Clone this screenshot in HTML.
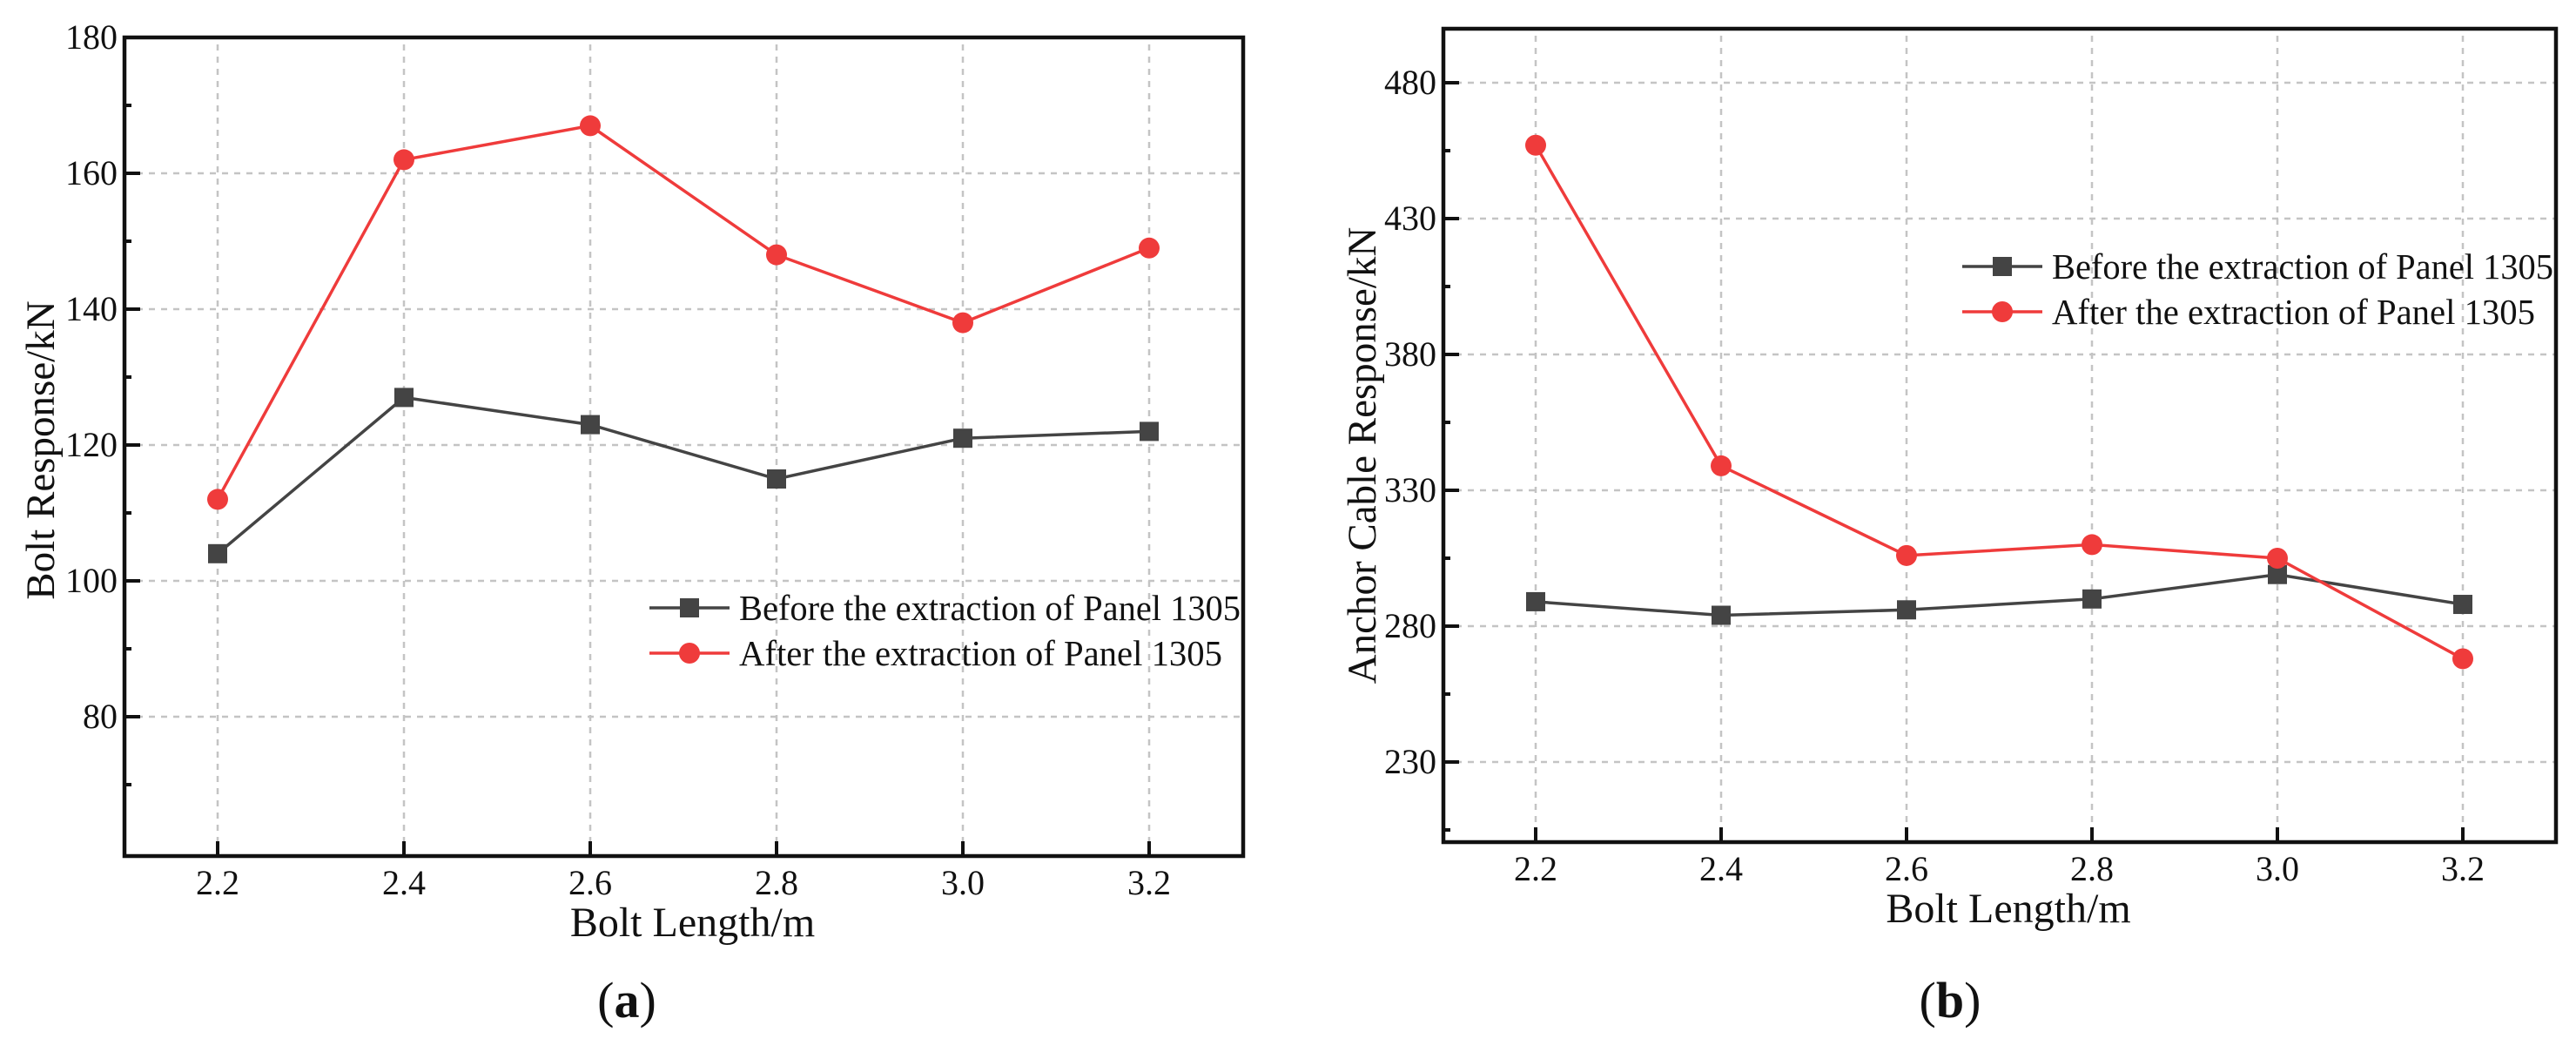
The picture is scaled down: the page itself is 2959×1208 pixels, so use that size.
<!DOCTYPE html>
<html><head><meta charset="utf-8"><style>
html,body{margin:0;padding:0;background:#fff;}
svg{display:block;}
text{font-family:"Liberation Serif",serif;fill:#111;}
</style></head><body>
<svg id="s" width="2959" height="1208" viewBox="0 0 2959 1208" xmlns="http://www.w3.org/2000/svg"></svg>
<script>
const categories = [2.2, 2.4, 2.6, 2.8, 3.0, 3.2];
const xTickLabels = ["2.2","2.4","2.6","2.8","3.0","3.2"];
const boltBefore = [104, 127, 123, 115, 121, 122];
const boltAfter = [112, 162, 167, 148, 138, 149];
const boltYTicks = [80, 100, 120, 140, 160, 180];
const cableBefore = [289, 284, 286, 290, 299, 288];
const cableAfter = [457, 339, 306, 310, 305, 268];
const cableYTicks = [230, 280, 330, 380, 430, 480];
const legendLabels = ["Before the extraction of Panel 1305", "After the extraction of Panel 1305"];

const NS = "http://www.w3.org/2000/svg";
const svg = document.getElementById('s');
function mk(tag, attrs, parent){const e=document.createElementNS(NS,tag);for(const k in attrs)e.setAttribute(k,attrs[k]);(parent||svg).appendChild(e);return e;}

function drawChart(cfg){
  const g = mk('g',{});
  
  
  const xs = v => cfg.x0 + (v - 2.2) / 0.2 * cfg.dx;
  const ys = v => cfg.yTop + (cfg.vTop - v) * cfg.k;
  cfg.yTicks.forEach(t=>{
    const l = mk('line',{x1:cfg.L,x2:cfg.R,y1:ys(t),y2:ys(t),stroke:'#c4c4c4','stroke-width':2.5,'stroke-dasharray':'7 7'},g);
    
    
  });
  categories.forEach(c=>{
    const l = mk('line',{x1:xs(c),x2:xs(c),y1:cfg.T+8,y2:cfg.B,stroke:'#c4c4c4','stroke-width':2.5,'stroke-dasharray':'7 7'},g);
    
    
  });
  cfg.yTicks.forEach((t,i)=>{
    mk('line',{x1:cfg.L,x2:cfg.L+18,y1:ys(t),y2:ys(t),stroke:'#111','stroke-width':4},g);
    const m = ys(t) + cfg.k * cfg.step/2;
    if (m < cfg.B - 5) mk('line',{x1:cfg.L,x2:cfg.L+8,y1:m,y2:m,stroke:'#111','stroke-width':4},g);
    const tx = mk('text',{x:cfg.L-8,y:ys(t)+13,'font-size':40,'text-anchor':'end'},g);
    tx.textContent = t;
    
    
  });
  const mTop = ys(cfg.yTicks[cfg.yTicks.length-1]) - cfg.k*cfg.step/2;
  if (mTop > cfg.T + 5) mk('line',{x1:cfg.L,x2:cfg.L+8,y1:mTop,y2:mTop,stroke:'#111','stroke-width':4},g);
  categories.forEach((c,i)=>{
    mk('line',{x1:xs(c),x2:xs(c),y1:cfg.B,y2:cfg.B-17,stroke:'#111','stroke-width':4},g);
    const tx = mk('text',{x:xs(c),y:cfg.B+44,'font-size':40,'text-anchor':'middle'},g);
    tx.textContent = xTickLabels[i];
    
    
  });
  const fr = mk('rect',{x:cfg.L,y:cfg.T,width:cfg.R-cfg.L,height:cfg.B-cfg.T,fill:'none',stroke:'#111','stroke-width':4.5},g);
  
  
  const series = [{d:cfg.before,c:'#444444',m:'sq',n:'series-before'},{d:cfg.after,c:'#ef3b3b',m:'ci',n:'series-after'}];
  series.forEach(s=>{
    const p = mk('polyline',{points:s.d.map((v,i)=>xs(categories[i])+','+ys(v)).join(' '),fill:'none',stroke:s.c,'stroke-width':3.5},g);
    
    
    s.d.forEach((v,i)=>{
      let e;
      if(s.m==='sq') e = mk('rect',{x:xs(categories[i])-11,y:ys(v)-11,width:22,height:22,fill:s.c},g);
      else e = mk('circle',{cx:xs(categories[i]),cy:ys(v),r:12,fill:s.c},g);
      
      
    });
  });
  series.forEach((s,i)=>{
    const y = cfg.legY + i*52;
    const lg = mk('g',{},g);
    
    
    mk('line',{x1:cfg.legX,x2:cfg.legX+92,y1:y,y2:y,stroke:s.c,'stroke-width':3.5},lg);
    if(s.m==='sq') mk('rect',{x:cfg.legX+35,y:y-11,width:22,height:22,fill:s.c},lg);
    else mk('circle',{cx:cfg.legX+46,cy:y,r:12,fill:s.c},lg);
    const t = mk('text',{x:cfg.legX+103,y:y+14,'font-size':41,textLength:i===0?576:555,lengthAdjust:'spacingAndGlyphs'},lg);
    t.textContent = legendLabels[i];
  });
  const xt = mk('text',{x:(cfg.L+cfg.R)/2+10,y:cfg.B+92,'font-size':48,'text-anchor':'middle'},g);
  xt.textContent = 'Bolt Length/m';
  
  
  const yt = mk('text',{x:0,y:0,'font-size':47,'text-anchor':'middle',transform:`translate(${cfg.ylx},${cfg.yly}) rotate(-90)`},g);
  yt.textContent = cfg.ytitle;
  
  
  const cap = mk('text',{x:cfg.capX,y:1168,'font-size':58,'text-anchor':'middle'},g);
  cap.innerHTML = '(<tspan font-weight="bold">'+cfg.cap+'</tspan>)';
  
  
}

drawChart({name:'chart-a-bolt-response',L:143,R:1428,T:43,B:983,x0:250,dx:214,yTop:43,vTop:180,k:7.8,step:20,
  yTicks:boltYTicks,before:boltBefore,after:boltAfter,legX:746,legY:698,ylx:62,yly:517,ytitle:'Bolt Response/kN',cap:'a',capX:720});
drawChart({name:'chart-b-anchor-cable-response',L:1658,R:2936,T:33,B:967,x0:1764,dx:213,yTop:95,vTop:480,k:3.12,step:50,
  yTicks:cableYTicks,before:cableBefore,after:cableAfter,legX:2254,legY:306,ylx:1580,yly:523,ytitle:'Anchor Cable Response/kN',cap:'b',capX:2240});
</script>
</body></html>
